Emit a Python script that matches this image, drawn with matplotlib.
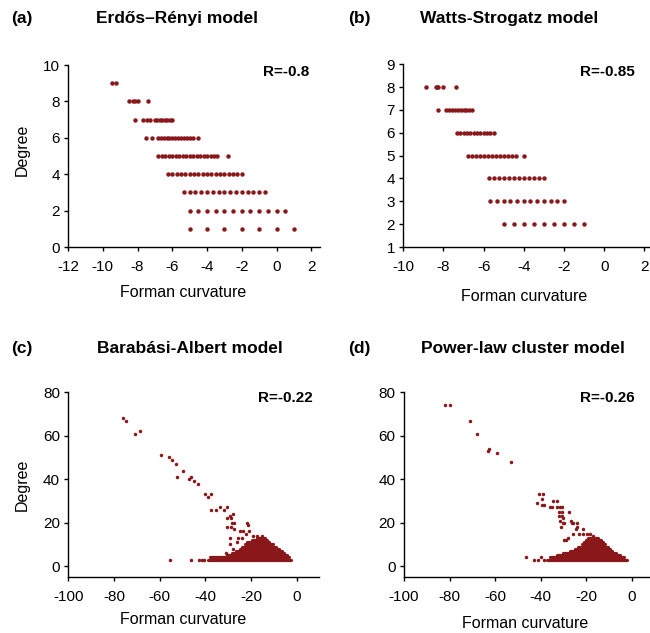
import numpy as np
import matplotlib.pyplot as plt

plt.rcParams['font.family'] = ['Liberation Sans', 'DejaVu Sans']
plt.rcParams['axes.unicode_minus'] = False

# (a) Erdős–Rényi: degree rows and the curvature values on each row
er_degree = [1, 2, 3, 4, 5, 6, 7, 8, 9]
er_curv = [
    [-5, -4, -3, -2, -1, 0, 1],
    [-5, -4.5, -4, -3.5, -3, -2.5, -2, -1.5, -1, -0.5, 0, 0.5],
    [-5.33, -5, -4.67, -4.33, -4, -3.67, -3.33, -3, -2.67, -2.33, -2, -1.67, -1.33, -1, -0.67],
    [-6.25, -6, -5.75, -5.5, -5.25, -5, -4.75, -4.5, -4.25, -4, -3.75, -3.5, -3.25, -3,
     -2.75, -2.5, -2.25, -2],
    [-6.8, -6.6, -6.4, -6.2, -6, -5.8, -5.6, -5.4, -5.2, -5, -4.8, -4.6, -4.4, -4.2, -4,
     -3.8, -3.6, -3.4, -2.8],
    [-7.5, -7.17, -6.83, -6.67, -6.5, -6.33, -6.17, -6, -5.83, -5.67, -5.5, -5.33, -5.17,
     -5, -4.83, -4.5],
    [-8.14, -7.71, -7.43, -7.29, -7, -6.86, -6.71, -6.57, -6.43, -6.29, -6.14, -6],
    [-8.5, -8.25, -8.125, -8, -7.375],
    [-9.44, -9.22],
]

# (b) Watts-Strogatz
ws_degree = [2, 3, 4, 5, 6, 7, 8]
ws_curv = [
    [-5, -4.5, -4, -3.5, -3, -2.5, -2, -1.5, -1],
    [-5.67, -5.33, -5, -4.67, -4.33, -4, -3.67, -3.33, -3, -2.67, -2.33, -2],
    [-5.75, -5.5, -5.25, -5, -4.75, -4.5, -4.25, -4, -3.75, -3.5, -3.25, -3],
    [-6.8, -6.6, -6.4, -6.2, -6, -5.8, -5.6, -5.4, -5.2, -5, -4.8, -4.6, -4.4, -4.0],
    [-7.33, -7.17, -7, -6.83, -6.67, -6.5, -6.33, -6.17, -6, -5.83, -5.67, -5.5],
    [-8.29, -7.86, -7.71, -7.57, -7.43, -7.29, -7.14, -7, -6.86, -6.71, -6.57],
    [-8.875, -8.375, -8.3, -8.25, -8.0, -7.375],
]

# (c) Barabási-Albert: dense rows (degree, curvature from .. to) + scattered nodes
ba_row_degree = [3, 4, 5, 6, 7, 8, 9, 10, 11, 12, 13]
ba_row_min = [-38.7, -38.0, -30.6, -28.5, -26.5, -25.0, -24.0, -22.5, -21.5, -19.5, -17.5]
ba_row_max = [-2.6, -3.2, -4.3, -5.5, -6.5, -7.8, -9.0, -10.5, -12.0, -13.0, -14.0]
ba_x = [-76.2, -74.7, -70.9, -68.6, -59.5, -55.8, -54.6, -52.8, -49.6, -52.4, -47.1, -46.3,
        -45.1, -43.2, -40.1, -38.8, -37.6, -37.4, -35.3, -33.6, -31.8, -30.5, -28.0, -29.2,
        -30.6, -28.9, -28.4, -27.4, -30.6, -28.9, -21.9, -21.4, -27.4, -24.8, -23.3, -20.8,
        -22.3, -25.5, -24.1, -18.9, -17.5, -15.3, -29.2, -26.2, -29.2, -27.7, -30.9,
        -55.5, -46.4, -42.6, -41.6, -40.6]
ba_y = [68, 67, 61, 62, 51, 50, 49, 47, 44, 41, 40, 41,
        39, 38, 33, 32, 33, 26, 26, 27, 26, 27, 24, 23,
        22, 22, 20, 20, 18, 18, 20, 19, 17, 16, 16, 16,
        15, 13, 13, 14, 14, 14, 13, 11, 10, 8, 6,
        3, 3, 3, 3, 3]

# (d) Power-law cluster
pl_row_degree = [3, 4, 5, 6, 7, 8, 9, 10, 11, 12, 13]
pl_row_min = [-37.0, -36.0, -33.0, -30.0, -27.0, -25.0, -23.5, -22.0, -21.0, -20.0, -19.0]
pl_row_max = [-2.2, -3.2, -5.0, -6.8, -8.5, -9.5, -10.5, -11.7, -12.5, -13.5, -15.0]
pl_x = [-82.0, -79.9, -71.2, -68.1, -62.5, -63.0, -59.0, -53.1,
        -40.6, -39.1, -39.5, -41.7, -39.5, -38.4, -34.8, -32.9, -35.9, -35.1, -32.9, -31.5,
        -30.7, -31.8, -30.7, -27.4, -31.9, -30.7, -30.0, -31.5, -30.3, -29.7, -30.9,
        -26.8, -26.4, -25.6, -24.2, -23.9, -24.5, -21.2, -23.0, -21.5, -19.8, -18.3, -17.1,
        -25.9, -27.8, -28.8, -29.7,
        -46.4, -42.9, -41.0, -39.8, -38.5]
pl_y = [74, 74, 67, 61, 54, 53, 52, 48,
        33, 33, 31, 29, 28, 28, 30, 30, 27, 27, 27, 27,
        27, 25, 25, 25, 23, 23, 22, 21, 20, 20, 18,
        21, 20, 20, 20, 18, 17, 17, 15, 15, 15, 15, 14,
        15, 13, 12, 12,
        4, 3, 3, 4, 3]

red = '#8a1719'
W, H = 650, 633

fig = plt.figure(figsize=(W / 100, H / 100), dpi=100)


def add_ax(left, right, top, bottom):
    return fig.add_axes([left / W, 1 - bottom / H, (right - left) / W, (bottom - top) / H])


def style(ax):
    for s in ['top', 'right']:
        ax.spines[s].set_visible(False)
    for s in ['left', 'bottom']:
        ax.spines[s].set_linewidth(1.0)
    ax.tick_params(direction='out', length=3, width=1.0, labelsize=11)
    ax.tick_params(axis='x', pad=6.5)
    ax.tick_params(axis='y', pad=3)


def txt(x, y, s, **kw):
    fig.text(x / W, 1 - y / H, s, **kw)


# (a)
ax = add_ax(68, 320, 65, 247)
for d, xs in zip(er_degree, er_curv):
    ax.plot(xs, [d] * len(xs), 'o', color=red, ms=3.2, mew=0)
ax.set_xlim(-12, 2.5)
ax.set_ylim(0, 10)
ax.set_xticks(np.arange(-12, 3, 2))
ax.set_yticks(np.arange(0, 11, 2))
style(ax)

# (b)
ax = add_ax(403.3, 650, 64.3, 247)
for d, xs in zip(ws_degree, ws_curv):
    ax.plot(xs, [d] * len(xs), 'o', color=red, ms=3.2, mew=0)
ax.set_xlim(-10, 2.28)
ax.set_ylim(1, 9)
ax.set_xticks(np.arange(-10, 3, 2))
ax.set_yticks(np.arange(1, 10, 1))
style(ax)

# (c)
ax = add_ax(68.3, 319.4, 392.3, 577)
ax.hlines(ba_row_degree, ba_row_min, ba_row_max, color=red, lw=2.3, capstyle='round')
ax.plot(ba_x, ba_y, 'o', color=red, ms=2.5, mew=0)
ax.set_xlim(-100, 10)
ax.set_ylim(-5, 80)
ax.set_xticks(np.arange(-100, 1, 20))
ax.set_yticks(np.arange(0, 81, 20))
style(ax)

# (d)
ax = add_ax(404, 650, 392.3, 577)
ax.hlines(pl_row_degree, pl_row_min, pl_row_max, color=red, lw=2.3, capstyle='round')
ax.plot(pl_x, pl_y, 'o', color=red, ms=2.5, mew=0)
ax.set_xlim(-100, 8)
ax.set_ylim(-5, 80)
ax.set_xticks(np.arange(-100, 1, 20))
ax.set_yticks(np.arange(0, 81, 20))
style(ax)

# titles, panel letters, labels
bold = dict(fontsize=12.5, fontweight='bold', va='center')
txt(11, 18.5, '(a)', ha='left', **bold)
txt(177, 18.5, 'Erdős–Rényi model', ha='center', **bold)
txt(348, 18.5, '(b)', ha='left', **bold)
txt(509, 18.5, 'Watts-Strogatz model', ha='center', **bold)
txt(11, 348.5, '(c)', ha='left', **bold)
txt(190, 348.5, 'Barabási-Albert model', ha='center', **bold)
txt(348, 348.5, '(d)', ha='left', **bold)
txt(523, 348.5, 'Power-law cluster model', ha='center', **bold)

rk = dict(fontsize=11, fontweight='bold', ha='right', va='center')
txt(309, 71.7, 'R=-0.8', **rk)
txt(635, 71.7, 'R=-0.85', **rk)
txt(313, 397.7, 'R=-0.22', **rk)
txt(635, 397.7, 'R=-0.26', **rk)

lab = dict(fontsize=11.5, ha='center', va='center')
txt(183, 292.7, 'Forman curvature', **lab)
txt(524, 296.7, 'Forman curvature', **lab)
txt(183, 620, 'Forman curvature', **lab)
txt(525, 623.3, 'Forman curvature', **lab)
txt(22, 150, 'Degree', rotation=90, **lab)
txt(22, 485, 'Degree', rotation=90, **lab)

fig.savefig('out.png', dpi=100)
